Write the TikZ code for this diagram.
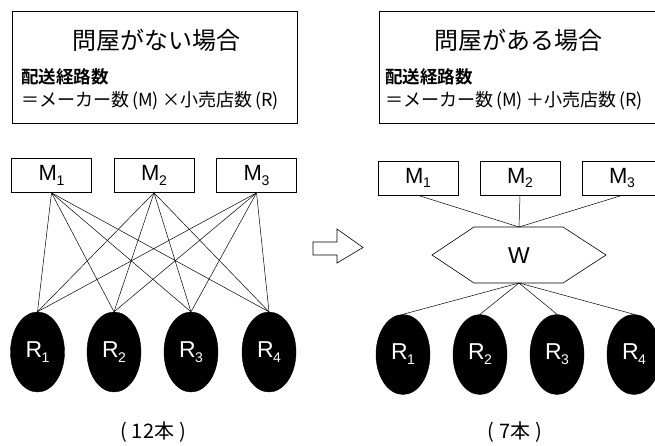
\documentclass[tikz,border=0pt]{standalone}
\usepackage{fontspec}
\usetikzlibrary{shapes.geometric}
\newfontfamily\jp{Noto Sans CJK JP}
\newfontfamily\jpb{Noto Sans CJK JP Bold}
\newfontfamily\lat{Liberation Sans}
\newcommand{\lbl}[3]{{\lat\fontsize{#3}{#3}\selectfont #1\hspace{-0.5pt}\raisebox{-0.22em}{\fontsize{14}{14}\selectfont #2}}}
\newcommand{\parlbl}[1]{\hspace{3pt}(#1)\hspace{3.5pt}}
\tikzset{
  mbox/.style={draw, line width=0.7pt, minimum width=80pt, minimum height=34pt, inner sep=0pt},
  rnode/.style={ellipse, fill=black, draw=black, minimum width=54pt, minimum height=80pt, inner sep=0pt, text=white},
  infobox/.style={draw, line width=0.7pt, minimum width=285pt, minimum height=112pt, inner sep=0pt},
  conn/.style={line width=0.5pt},
  txt/.style={inner sep=0pt, anchor=west}
}
\begin{document}
\begin{tikzpicture}[x=1pt,y=-1pt]
\useasboundingbox (0,0) rectangle (655,445);
\clip (0,0) rectangle (655,445);
\fill[white] (0,0) rectangle (655,445);

% ---------- left info box ----------
\node[infobox] (boxL) at (154.5,67) {};
\node[inner sep=0pt] (titleL) at (156,40) {\jp\fontsize{24}{24}\selectfont 問屋がない場合};
\node[txt] (l1L) at (21,77) {\jpb\fontsize{17.5}{17.5}\selectfont 配送経路数};
\node[txt] (l2L) at (21,101) {\jp\fontsize{18}{18}\selectfont ＝メーカー数\parlbl{M}×小売店数\parlbl{R}};

% ---------- right info box ----------
\node[infobox] (boxR) at (521.5,67.5) {};
\node[inner sep=0pt] (titleR) at (518,40) {\jp\fontsize{24}{24}\selectfont 問屋がある場合};
\node[txt] (l1R) at (385,77) {\jpb\fontsize{17.5}{17.5}\selectfont 配送経路数};
\node[txt] (l2R) at (385,101) {\jp\fontsize{18}{18}\selectfont ＝メーカー数\parlbl{M}＋小売店数\parlbl{R}};

% ---------- left diagram ----------
\node[mbox] (LM1) at (51.5,175.5) {\lbl{M}{1}{22}};
\node[mbox] (LM2) at (154,175.5) {\lbl{M}{2}{22}};
\node[mbox] (LM3) at (256.5,175.5) {\lbl{M}{3}{22}};
\node[rnode] (LR1) at (37.5,352) {\lbl{R}{1}{23}};
\node[rnode] (LR2) at (114,352) {\lbl{R}{2}{23}};
\node[rnode] (LR3) at (191,352) {\lbl{R}{3}{23}};
\node[rnode] (LR4) at (269,352) {\lbl{R}{4}{23}};
\foreach \m in {1,2,3}{
  \foreach \r in {1,2,3,4}{
    \draw[conn] (LM\m.south) -- (LR\r.north);
  }
}
\node[inner sep=0pt] (cntL) at (153,432) {\jp\fontsize{20}{20}\selectfont (\hspace{5pt}12本\hspace{5pt})};

% ---------- hollow arrow ----------
\draw[line width=0.6pt] (313,242) -- (337,242) -- (337,229) -- (363,247.5) -- (337,263) -- (337,255) -- (313,255) -- cycle;

% ---------- right diagram ----------
\node[mbox] (RM1) at (418,178) {\lbl{M}{1}{22}};
\node[mbox] (RM2) at (520,178) {\lbl{M}{2}{22}};
\node[mbox] (RM3) at (622,178) {\lbl{M}{3}{22}};
\node[inner sep=0pt] (W) at (519,256) {{\lat\fontsize{23}{23}\selectfont W}};
\coordinate (Wt) at (519,227);
\coordinate (Wb) at (519,283);
\draw[line width=0.6pt] (474,227) -- (563,227) -- (606,255) -- (563,283) -- (474,283) -- (432,255) -- cycle;
\node[rnode] (RR1) at (403,354.5) {\lbl{R}{1}{23}};
\node[rnode] (RR2) at (480,354.5) {\lbl{R}{2}{23}};
\node[rnode] (RR3) at (557,354.5) {\lbl{R}{3}{23}};
\node[rnode] (RR4) at (634,354.5) {\lbl{R}{4}{23}};
\foreach \m in {1,2,3}{ \draw[conn] (RM\m.south) -- (Wt); }
\foreach \r in {1,2,3,4}{ \draw[conn] (Wb) -- (RR\r.north); }
\node[inner sep=0pt] (cntR) at (515,432) {\jp\fontsize{20}{20}\selectfont (\hspace{5pt}7本\hspace{5pt})};
\end{tikzpicture}
\end{document}
